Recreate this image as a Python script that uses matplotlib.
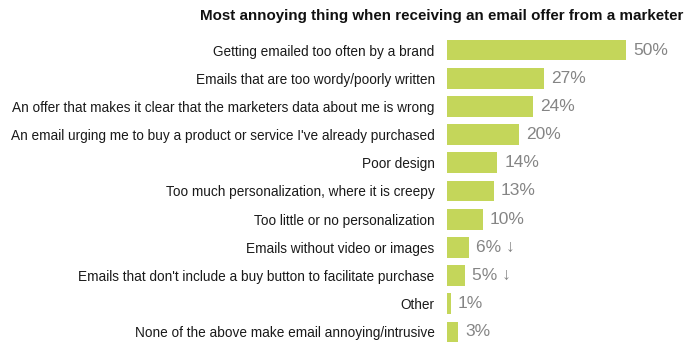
import numpy as np
import matplotlib
matplotlib.use('Agg')
import matplotlib.pyplot as plt

plt.rcParams['font.family'] = ['Liberation Sans', 'DejaVu Sans']

# data
labels = [
    'Getting emailed too often by a brand',
    'Emails that are too wordy/poorly written',
    'An offer that makes it clear that the marketers data about me is wrong',
    "An email urging me to buy a product or service I've already purchased",
    'Poor design',
    'Too much personalization, where it is creepy',
    'Too little or no personalization',
    'Emails without video or images',
    "Emails that don't include a buy button to facilitate purchase",
    'Other',
    'None of the above make email annoying/intrusive',
]
values = [50, 27, 24, 20, 14, 13, 10, 6, 5, 1, 3]
arrows = ['', '', '', '', '', '', '', ' \u2193', ' \u2193', '', '']
title = 'Most annoying thing when receiving an email offer from a marketer'

fig = plt.figure(figsize=(6.89, 3.56), dpi=100)
ax = fig.add_axes([0.649, 0.028, 0.351, 0.871])

y = np.arange(len(values))
ax.barh(y, values, height=0.74, color='#c4d65a')
ax.set_ylim(len(values) - 0.5, -0.5)
ax.set_xlim(0, 67.6)

for i, (v, a) in enumerate(zip(values, arrows)):
    ax.text(v + 2.0, i, f'{v}%{a}', va='center', ha='left', fontsize=12.5, color='#858585',
            family=['Liberation Sans', 'DejaVu Sans'])

ax.set_yticks(y)
ax.set_yticklabels(labels, fontsize=9.85, color='#1a1a1a')
ax.tick_params(axis='y', length=0, pad=9)
ax.set_xticks([])
for s in ax.spines.values():
    s.set_visible(False)

fig.text(0.992, 0.955, title, ha='right', va='center', fontsize=10.9, fontweight='bold', color='#111111')

fig.savefig('out.png', dpi=100)
